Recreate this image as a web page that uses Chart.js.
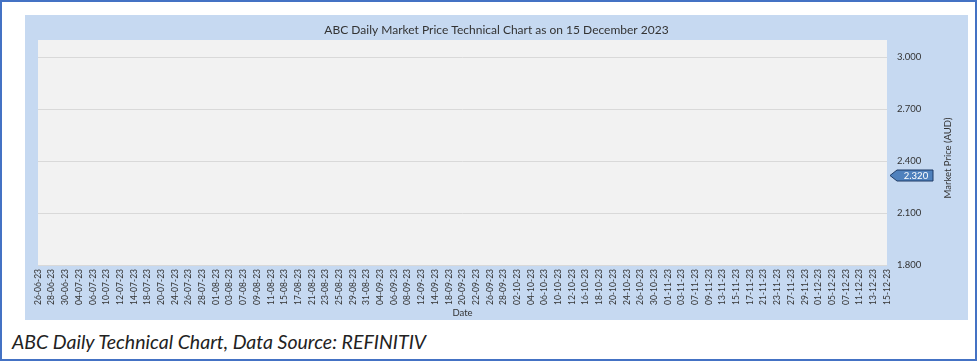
<!DOCTYPE html>
<html>
<head>
<meta charset="utf-8">
<script src="https://cdn.jsdelivr.net/npm/chart.js@4.4.0/dist/chart.umd.min.js"></script>
<style>
  html, body { margin: 0; padding: 0; background: #fff; }
  #frame { position: absolute; left: 0; top: 0; width: 977px; height: 361px; box-sizing: border-box; border: 2px solid #4472C4; background: #fff; }
  #panel { position: absolute; left: 25px; top: 15px; width: 943px; height: 305px; background: #C6D9F1; }
  #c { display: block; }
  #caption { position: absolute; left: 12px; top: 330px; font-family: Lato, sans-serif; font-style: italic; font-size: 19.5px; line-height: 24px; color: #222; white-space: nowrap; }
</style>
</head>
<body>
<div id="frame"></div>
<div id="panel"><canvas id="c" width="943" height="305"></canvas></div>
<div id="caption">ABC Daily Technical Chart, Data Source: REFINITIV</div>
<script>
const chartTitle = 'ABC Daily Market Price Technical Chart as on 15 December 2023';
const dateLabels = [
  '26-06-23','28-06-23','30-06-23','04-07-23','06-07-23','10-07-23','12-07-23','14-07-23','18-07-23','20-07-23',
  '24-07-23','26-07-23','28-07-23','01-08-23','03-08-23','07-08-23','09-08-23','11-08-23','15-08-23','17-08-23',
  '21-08-23','23-08-23','25-08-23','29-08-23','31-08-23','04-09-23','06-09-23','08-09-23','12-09-23','14-09-23',
  '18-09-23','20-09-23','22-09-23','26-09-23','28-09-23','02-10-23','04-10-23','06-10-23','10-10-23','12-10-23',
  '16-10-23','18-10-23','20-10-23','24-10-23','26-10-23','30-10-23','01-11-23','03-11-23','07-11-23','09-11-23',
  '13-11-23','15-11-23','17-11-23','21-11-23','23-11-23','27-11-23','29-11-23','01-12-23','05-12-23','07-12-23',
  '11-12-23','13-12-23','15-12-23'
];
const priceValues = [];          // no visible price line in the reference
const yTickValues = [1.8, 2.1, 2.4, 2.7, 3.0];
const yMin = 1.8;
const yMax = 3.1;
const lastPrice = 2.320;
const xAxisTitle = 'Date';
const yAxisTitle = 'Market Price (AUD)';

const FONT = 'Lato, sans-serif';
const TXT = '#333333';

const bgPlugin = {
  id: 'plotBg',
  beforeDraw(chart) {
    const { ctx, chartArea: a } = chart;
    ctx.save();
    ctx.fillStyle = '#F2F2F2';
    ctx.fillRect(a.left, a.top, a.right - a.left, a.bottom - a.top);
    ctx.restore();
  }
};

const overlayPlugin = {
  id: 'overlay',
  afterDraw(chart) {
    const { ctx, chartArea: a, scales } = chart;
    ctx.save();
    // title
    ctx.fillStyle = TXT;
    ctx.font = '12px ' + FONT;
    ctx.textAlign = 'center';
    ctx.textBaseline = 'middle';
    ctx.fillText(chartTitle, chart.width / 2, 15);
    // y-axis title, reading bottom to top
    ctx.save();
    ctx.translate(923, 143);
    ctx.rotate(-Math.PI / 2);
    ctx.font = '9.5px ' + FONT;
    ctx.fillText(yAxisTitle, 0, 0);
    ctx.restore();
    // last price tag
    const y = Math.round(scales.y.getPixelForValue(lastPrice)) + 0.5;
    const tip = a.right + 3, bodyL = a.right + 10, bodyR = a.right + 46, h = 5.5;
    ctx.beginPath();
    ctx.moveTo(tip, y);
    ctx.lineTo(bodyL, y - h);
    ctx.lineTo(bodyR, y - h);
    ctx.lineTo(bodyR, y + h);
    ctx.lineTo(bodyL, y + h);
    ctx.closePath();
    ctx.fillStyle = '#4F81BD';
    ctx.fill();
    ctx.strokeStyle = '#1F3B66';
    ctx.lineWidth = 1;
    ctx.stroke();
    ctx.fillStyle = '#FFFFFF';
    ctx.font = '9.5px ' + FONT;
    ctx.fillText(lastPrice.toFixed(3), (bodyL + bodyR) / 2 + 1, y + 0.5);
    ctx.restore();
  }
};

new Chart(document.getElementById('c'), {
  type: 'line',
  data: {
    labels: dateLabels,
    datasets: [{
      label: 'Market Price',
      data: priceValues,
      borderColor: '#1F4E79',
      borderWidth: 1.5,
      pointRadius: 0
    }]
  },
  options: {
    responsive: false,
    animation: false,
    layout: { padding: { left: 13, right: 0, top: 25, bottom: 0 } },
    plugins: { legend: { display: false }, tooltip: { enabled: false }, title: { display: false } },
    scales: {
      x: {
        offset: false,
        grid: { display: false, drawTicks: false },
        border: { display: false },
        ticks: {
          autoSkip: false, maxRotation: 90, minRotation: 90, padding: 4,
          color: TXT, font: { family: FONT, size: 8.5 }
        },
        title: { display: true, text: xAxisTitle, color: TXT, font: { family: FONT, size: 9.5 }, padding: { top: 0, bottom: 1 } },
        afterFit(s) { s.height = 55; }
      },
      y: {
        position: 'right',
        min: yMin,
        max: yMax,
        grid: { color: '#D9D9D9', lineWidth: 1, drawTicks: false },
        border: { display: false },
        afterBuildTicks(s) { s.ticks = yTickValues.map(v => ({ value: v })); },
        ticks: {
          padding: 10, color: TXT, font: { family: FONT, size: 9.5 },
          callback: v => Number(v).toFixed(3)
        },
        afterFit(s) { s.width = 81; }
      }
    }
  },
  plugins: [bgPlugin, overlayPlugin]
});
</script>
</body>
</html>
